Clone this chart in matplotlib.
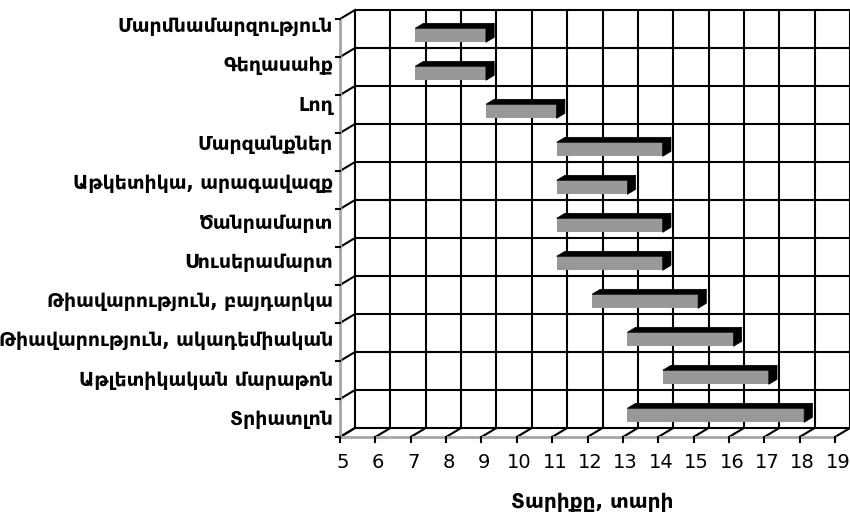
import matplotlib
matplotlib.use("Agg")
import matplotlib.pyplot as plt
from matplotlib.patches import Polygon

# ---- data (top to bottom as in the chart) ----
categories = [
    "Մարմնամարզություն",
    "Գեղասահք",
    "Լող",
    "Մարզանքներ",
    "Աթկետիկա, արագավազք",
    "Ծանրամարտ",
    "Սուսերամարտ",
    "Թիավարություն, բայդարկա",
    "Թիավարություն, ակադեմիական",
    "Աթլետիկական մարաթոն",
    "Տրիատլոն",
]
start_age = [7, 7, 9, 11, 11, 11, 11, 12, 13, 14, 13]
end_age = [9, 9, 11, 14, 13, 14, 14, 15, 16, 17, 18]
x_ticks = list(range(5, 20))
x_title = "Տարիքը, տարի"

plt.rcParams['font.family'] = ['DejaVu Sans']

W, H = 850, 512
fig = plt.figure(figsize=(W / 100, H / 100), dpi=100)
ax = fig.add_axes([0, 0, 1, 1])
ax.axis('off')

# front plane mapping: x=5 -> 340px, x=19 -> 835px ; y=0 -> 437px from top, y=11 -> 19px
sx = (835 - 340) / 14.0
sy = (437 - 19) / 11.0
ax.set_xlim(5 - 340 / sx, 5 + (W - 340) / sx)
ax.set_ylim(-(H - 437) / sy, 437 / sy)

DX = 15 / sx   # depth offset (back wall) in data units
DY = 9 / sy

n = len(categories)
xmin, xmax = x_ticks[0], x_ticks[-1]
lw = 1.5
blk = 'black'

# back wall grid
for v in x_ticks:
    ax.plot([v + DX, v + DX], [DY, n + DY], color=blk, lw=lw, zorder=1, solid_capstyle='butt')
for k in range(n + 1):
    ax.plot([xmin + DX, xmax + DX], [k + DY, k + DY], color=blk, lw=lw, zorder=1, solid_capstyle='butt')

# floor
for v in x_ticks:
    ax.plot([v, v + DX], [0, DY], color=blk, lw=lw, zorder=1)
    ax.plot([v, v], [0, -0.14], color=blk, lw=lw, zorder=2)
ax.plot([xmin, xmax], [0, 0], color='#a6a6a6', lw=2.0, zorder=1.5)

# left wall
ax.plot([xmin, xmin], [0, n], color='#a6a6a6', lw=2.0, zorder=1.5)
for k in range(n + 1):
    ax.plot([xmin, xmin + DX], [k, k + DY], color=blk, lw=lw, zorder=1)
    ax.plot([xmin - 0.1, xmin], [k, k], color=blk, lw=lw, zorder=2)

# bars (3D boxes)
d0 = 0.3      # front face depth fraction
bd = 0.55     # bar depth fraction
bh = 0.37     # bar height (rows)
for i, (s, e) in enumerate(zip(start_age, end_age)):
    k = n - 1 - i
    yc = k + 0.5 + d0 * DY
    x0 = s + d0 * DX
    x1 = e + d0 * DX
    y0 = yc - bh / 2
    y1 = yc + bh / 2
    ddx, ddy = bd * DX, bd * DY
    ax.barh(yc, e - s, left=x0, height=bh, color='#98989b', edgecolor='none', zorder=4)
    top = Polygon([(x0, y1), (x0 + ddx, y1 + ddy), (x1 + ddx, y1 + ddy), (x1, y1)],
                  closed=True, facecolor='black', edgecolor='black', lw=0.5, zorder=5)
    side = Polygon([(x1, y0), (x1, y1), (x1 + ddx, y1 + ddy), (x1 + ddx, y0 + ddy)],
                   closed=True, facecolor='black', edgecolor='black', lw=0.5, zorder=5)
    ax.add_patch(top)
    ax.add_patch(side)

# category labels
for i, name in enumerate(categories):
    k = n - 1 - i
    yb = 0.316 + k * 1.034
    ax.text(xmin - 7 / sx, yb, name, ha='right', va='baseline',
            fontsize=13.6, fontweight='bold', color='black')

# x tick labels
for v in x_ticks:
    ax.text(v + 0.08, -0.66, str(v), ha='center', va='center', fontsize=14, color='black')

# x title
ax.text(12.13, -1.71, x_title, ha='center', va='center', fontsize=14.5,
        fontweight='bold', color='black')

fig.savefig('out.png', dpi=100)
